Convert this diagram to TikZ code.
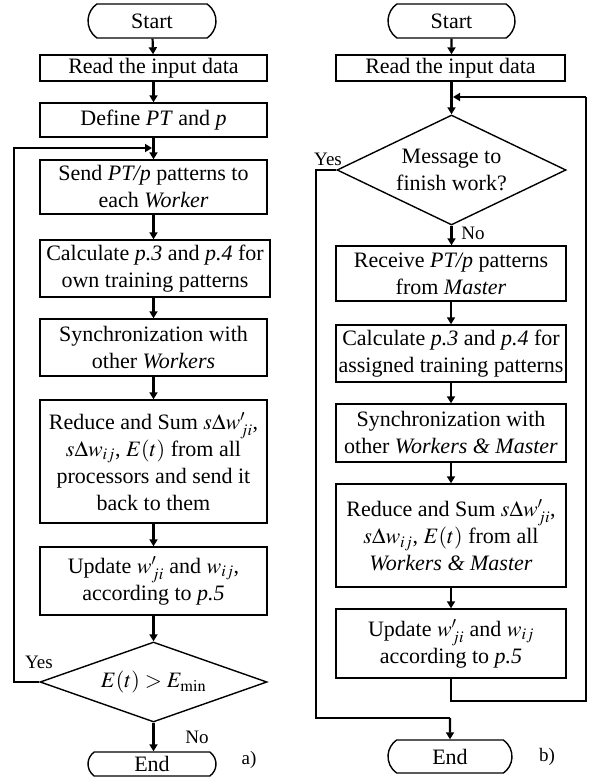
\documentclass[tikz,border=0pt]{standalone}
\usepackage{mathptmx}
\usepackage{fontspec}
\setmainfont{Liberation Serif}
\usetikzlibrary{shapes.geometric,shapes.misc,arrows.meta}
\begin{document}
\begin{tikzpicture}[x=1pt,y=-1pt,
  every node/.style={font=\fontsize{22}{27}\selectfont, inner sep=0pt},
  procbox/.style={draw, line width=1.4pt, rectangle, align=center, minimum width=227pt},
  termbox/.style={draw, line width=1.4pt, rounded rectangle, rounded rectangle arc length=110, minimum width=128pt, minimum height=34pt},
  decbox/.style={draw, line width=1.4pt, diamond, align=center},
  flow/.style={line width=2.2pt, -{Triangle[length=7pt,width=8pt]}},
  loopline/.style={line width=1.8pt},
  loopflow/.style={line width=1.8pt, -{Triangle[length=7pt,width=8pt]}},
  lbl/.style={font=\fontsize{19}{22}\selectfont}
]
\useasboundingbox (0,0) rectangle (592,778);

% ---------- a) ----------
\node[termbox] (sA) at (152,21) {Start};
\node[procbox, minimum height=26pt] (rA) at (153.5,68) {Read the input data};
\node[procbox, minimum height=34pt] (dA) at (153.5,120) {Define \textit{PT} and \textit{p}};
\node[procbox, minimum height=54pt] (sendA) at (153.5,187) {Send \textit{PT/p} patterns to\\each \textit{Worker}};
\node[procbox, minimum width=230pt, minimum height=57pt] (calcA) at (155,268.5) {Calculate \textit{p.3} and \textit{p.4} for\\own training patterns};
\node[procbox, minimum height=57pt] (syncA) at (153.5,347.5) {Synchronization with\\other \textit{Workers}};
\node[procbox, minimum height=123pt] (redA) at (153.5,461.5) {Reduce and Sum $s\Delta w'_{ji}$,\\$s\Delta w_{ij}$, $E(t)$ from all\\processors and send it\\back to them};
\node[procbox, minimum height=68pt] (updA) at (153.5,581) {Update $w'_{ji}$ and $w_{ij}$,\\according to \textit{p.5}};
\node[decbox, minimum width=227pt, minimum height=80pt, aspect=2.84] (diaA) at (153.5,682) {$E(t) > E_{\min}$};
\node[termbox, minimum height=24pt] (endA) at (152,764) {End};

\coordinate (jA) at (152,148);
\draw[flow] (sA) -- (rA);
\draw[flow] (rA) -- (dA);
\draw[flow] (dA) -- (sendA);
\draw[flow] (sendA) -- (calcA.north -| sendA.south);
\draw[flow] (calcA.south -| syncA.north) -- (syncA);
\draw[flow] (syncA) -- (redA);
\draw[flow] (redA) -- (updA);
\draw[flow] (updA) -- (diaA);
\draw[flow] (diaA) -- (endA.north -| diaA.south);
\draw[loopflow] (diaA.west) -- ++(-25,0) |- (jA);

\node[lbl] (yA) at (39,662) {Yes};
\node[lbl] (nA) at (197,737) {No};
\node[lbl] (la) at (249,760) {a)};

% ---------- b) ----------
\node[termbox, minimum width=127pt] (sB) at (451.5,21) {Start};
\node[procbox, minimum width=229pt, minimum height=26pt] (rB) at (450.5,68) {Read the input data};
\node[decbox, minimum width=229pt, minimum height=110pt, aspect=2.08] (diaB) at (451.5,170) {Message to\\finish work?};
\node[procbox, minimum width=230pt, minimum height=55pt] (recB) at (451,273.5) {Receive \textit{PT/p} patterns\\from \textit{Master}};
\node[procbox, minimum width=230pt, minimum height=57pt] (calcB) at (451,353.5) {Calculate \textit{p.3} and \textit{p.4} for\\assigned training patterns};
\node[procbox, minimum width=230pt, minimum height=58pt] (syncB) at (451,433) {Synchronization with\\other \textit{Workers \& Master}};
\node[procbox, minimum width=230pt, minimum height=103pt] (redB) at (451,535.5) {Reduce and Sum $s\Delta w'_{ji}$,\\$s\Delta w_{ij}$, $E(t)$ from all\\\textit{Workers \& Master}};
\node[procbox, minimum width=230pt, minimum height=69pt] (updB) at (451,643.5) {Update $w'_{ji}$ and $w_{ij}$\\according to \textit{p.5}};
\node[termbox, minimum width=124pt, minimum height=33pt] (endB) at (450,756.5) {End};

\coordinate (jB) at (453,97);
\coordinate (cB) at (586,97);
\coordinate (kB) at (450,718);
\draw[flow] (sB) -- (rB.north -| sB.south);
\draw[flow] (rB.south -| diaB.north) -- (diaB);
\draw[flow] (diaB) -- (recB.north -| diaB.south);
\draw[flow] (recB) -- (calcB);
\draw[flow] (calcB) -- (syncB);
\draw[flow] (syncB) -- (redB);
\draw[flow] (redB) -- (updB);
\draw[loopline] (updB.south) -- ++(0,22) -| (cB);
\draw[loopflow] (cB) -- (jB);
\draw[loopline] (diaB.west) -- ++(-20,0) |- (kB);
\draw[flow] (kB) -- (endB);

\node[lbl] (yB) at (328,159) {Yes};
\node[lbl] (nB) at (473,233) {No};
\node[lbl] (lb) at (547,757) {b)};
\end{tikzpicture}
\end{document}
